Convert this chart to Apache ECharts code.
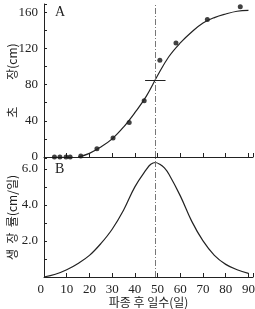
<!DOCTYPE html>
<html>
<head>
<meta charset="utf-8">
<script src="https://cdn.jsdelivr.net/npm/echarts@6/dist/echarts.min.js"></script>
<style>
  html, body { margin: 0; padding: 0; background: #fff; }
  #chart { width: 255px; height: 309px; }
</style>
</head>
<body>
<div id="chart"></div>
<script>
// A: measured plant height (cm) by days after sowing
var heightDots = [[4.6, 0], [7, 0], [9.7, 0], [11.5, 0], [16.2, 1], [23.3, 9], [30.4, 21],
                  [37.5, 38], [44.1, 62], [51, 107], [58.1, 126], [71.9, 152], [86.4, 166]];
// A: fitted growth curve
var curveDays = [15, 20, 25, 30, 35, 40, 45, 50, 55, 60, 65, 70, 75, 80, 85, 90];
var curveHeight = [0, 4, 11, 20, 33, 49, 67, 90, 111, 126, 138, 148, 154, 158, 161, 162];
// B: growth rate (cm/day)
var rateDays = [0, 5, 10, 15, 20, 25, 30, 35, 40, 45, 47, 49, 51, 53, 55, 60, 65, 70, 75, 80, 85, 90];
var rateValues = [0, 0.15, 0.4, 0.75, 1.2, 1.85, 2.65, 3.7, 5.0, 5.95, 6.25, 6.35, 6.25, 6.05, 5.7,
                  4.5, 3.1, 2.0, 1.2, 0.7, 0.4, 0.2];
// inflection point (day, height)
var inflection = [49, 85];

var serif = '"Liberation Serif", "DejaVu Serif", serif';
var kr = '"Noto Sans CJK KR", sans-serif';

function pairs(xs, ys) {
    var out = [];
    for (var i = 0; i < xs.length; i++) {
        out.push([xs[i], ys[i]]);
    }
    return out;
}

var vline = {
    symbol: 'none',
    silent: true,
    label: { show: false },
    lineStyle: { color: '#777', width: 1, type: [6, 2, 1, 2] },
    data: [{ xAxis: inflection[0] }]
};

var chart = echarts.init(document.getElementById('chart'));
chart.setOption({
    animation: false,
    grid: [
        { left: 44, right: 2, top: 4, height: 153, containLabel: false, outerBoundsMode: 'none' },
        { left: 44, right: 2, top: 158, height: 119, containLabel: false, outerBoundsMode: 'none' }
    ],
    xAxis: [
        {
            gridIndex: 0, type: 'value', min: 0, max: 92, interval: 10,
            splitLine: { show: false },
            axisLine: { lineStyle: { color: '#222' } },
            axisTick: { inside: true, length: 4, lineStyle: { color: '#222' } },
            axisLabel: { show: false }
        },
        {
            gridIndex: 1, type: 'value', min: 0, max: 92, interval: 10,
            splitLine: { show: false },
            axisLine: { lineStyle: { color: '#222' } },
            axisTick: { inside: true, length: 4, lineStyle: { color: '#222' } },
            axisLabel: {
                fontFamily: serif, fontSize: 13, color: '#222', margin: 6,
                alignMinLabel: 'right',
                formatter: function (v) { return v % 10 === 0 ? String(v) : ''; }
            },
            name: '파종 후 일수(일)',
            nameLocation: 'middle',
            nameGap: 16,
            nameTextStyle: { fontFamily: kr, fontSize: 12, color: '#222', verticalAlign: 'top' }
        }
    ],
    yAxis: [
        {
            gridIndex: 0, type: 'value', min: 0, max: 169, interval: 20,
            splitLine: { show: false },
            axisLine: { lineStyle: { color: '#222' } },
            axisTick: { inside: true, length: 3, lineStyle: { color: '#222' } },
            axisLabel: {
                fontFamily: serif, fontSize: 13, color: '#222', margin: 6,
                formatter: function (v) { return v % 40 === 0 ? String(v) : ''; }
            },
            name: '초          장(cm)',
            nameLocation: 'middle',
            nameRotate: 90,
            nameGap: 26,
            nameMoveOverlap: false,
            nameTextStyle: { fontFamily: kr, fontSize: 12, color: '#222' }
        },
        {
            gridIndex: 1, type: 'value', min: 0, max: 6.6, interval: 1,
            splitLine: { show: false },
            axisLine: { lineStyle: { color: '#222' } },
            axisTick: { inside: true, length: 3, lineStyle: { color: '#222' } },
            axisLabel: {
                fontFamily: serif, fontSize: 13, color: '#222', margin: 6,
                formatter: function (v) { return (v > 0 && v % 2 === 0) ? v.toFixed(1) : ''; }
            },
            name: '생  장  률(cm/일)',
            nameLocation: 'middle',
            nameRotate: 90,
            nameGap: 26,
            nameMoveOverlap: false,
            nameTextStyle: { fontFamily: kr, fontSize: 12, color: '#222' }
        }
    ],
    graphic: [
        { type: 'text', left: 55, top: 5, style: { text: 'A', font: '14px ' + serif, fill: '#222' } },
        { type: 'text', left: 55, top: 162, style: { text: 'B', font: '14px ' + serif, fill: '#222' } }
    ],
    series: [
        {
            type: 'line', xAxisIndex: 0, yAxisIndex: 0,
            data: pairs(curveDays, curveHeight),
            smooth: 0.4, showSymbol: false,
            lineStyle: { color: '#222', width: 1.2 },
            markLine: vline
        },
        {
            type: 'line', xAxisIndex: 0, yAxisIndex: 0,
            data: [],
            markLine: {
                symbol: 'none', silent: true, label: { show: false },
                lineStyle: { color: '#222', width: 1, type: 'solid' },
                data: [[{ coord: [inflection[0] - 4.5, inflection[1]] },
                        { coord: [inflection[0] + 4.5, inflection[1]] }]]
            }
        },
        {
            type: 'scatter', xAxisIndex: 0, yAxisIndex: 0,
            data: heightDots, symbolSize: 5, clip: false,
            itemStyle: { color: '#111' }
        },
        {
            type: 'line', xAxisIndex: 1, yAxisIndex: 1,
            data: pairs(rateDays, rateValues),
            smooth: 0.4, showSymbol: false,
            lineStyle: { color: '#222', width: 1.2 },
            markLine: vline
        }
    ]
});
</script>
</body>
</html>
